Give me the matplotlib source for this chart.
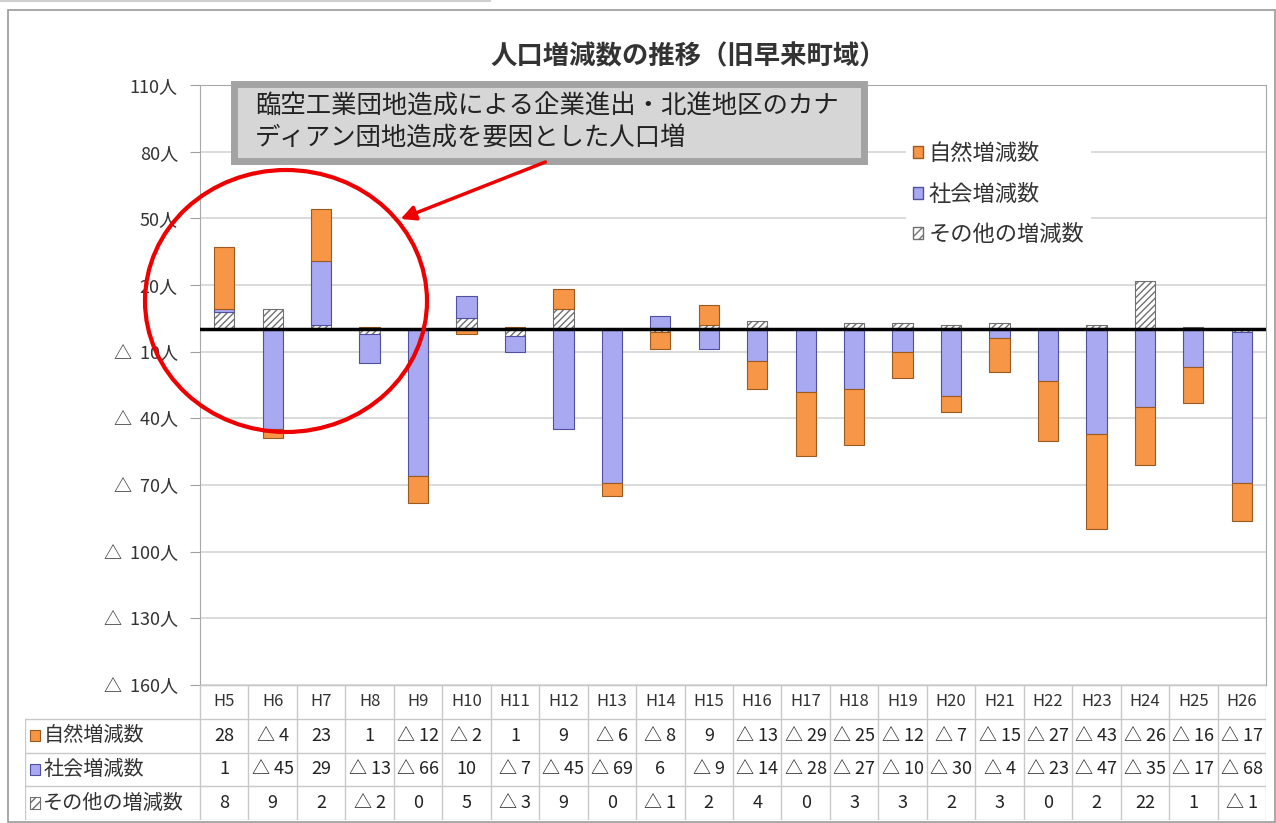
import numpy as np
from matplotlib import pyplot as plt
import matplotlib.patches as mpatches
from matplotlib.lines import Line2D

plt.rcParams['font.family'] = ['Noto Sans CJK JP', 'DejaVu Sans']

years = ["H5", "H6", "H7", "H8", "H9", "H10", "H11", "H12", "H13", "H14", "H15",
         "H16", "H17", "H18", "H19", "H20", "H21", "H22", "H23", "H24", "H25", "H26"]
natural = [28, -4, 23, 1, -12, -2, 1, 9, -6, -8, 9, -13, -29, -25, -12, -7, -15, -27, -43, -26, -16, -17]
social = [1, -45, 29, -13, -66, 10, -7, -45, -69, 6, -9, -14, -28, -27, -10, -30, -4, -23, -47, -35, -17, -68]
other = [8, 9, 2, -2, 0, 5, -3, 9, 0, -1, 2, 4, 0, 3, 3, 2, 3, 0, 2, 22, 1, -1]
series_names = ["自然増減数", "社会増減数", "その他の増減数"]
yticks = [110, 80, 50, 20, -10, -40, -70, -100, -130, -160]

title = "人口増減数の推移（旧早来町域）"
note = "臨空工業団地造成による企業進出・北進地区のカナ\nディアン団地造成を要因とした人口増"

W, H = 1276, 823
fig = plt.figure(figsize=(W / 100, H / 100), dpi=100)

def fx(px):
    return px / W

def fy(py):
    return 1 - py / H

# outer frame
fig.add_artist(mpatches.Rectangle((fx(8), fy(822)), fx(1275) - fx(8), fy(10) - fy(822),
                                  transform=fig.transFigure, fill=False, edgecolor='#9a9a9a', lw=1.2))
fig.add_artist(Line2D([0, fx(490)], [fy(1), fy(1)], transform=fig.transFigure, color='#d0d0d0', lw=1.5))

ax = fig.add_axes([fx(200), fy(685), fx(1266) - fx(200), fy(85) - fy(685)])
x = np.arange(len(years))
width = 0.42

c_nat = '#F79646'
c_soc = '#A9A9F2'
styles = [
    (other, dict(color='white', edgecolor='#707070', hatch='/////', linewidth=0.8)),
    (social, dict(color=c_soc, edgecolor='#5050a0', linewidth=0.8)),
    (natural, dict(color=c_nat, edgecolor='#9a5a20', linewidth=0.8)),
]
pos = np.zeros(len(years))
neg = np.zeros(len(years))
for vals, kw in styles:
    v = np.array(vals, dtype=float)
    bottom = np.where(v >= 0, pos, neg)
    ax.bar(x, v, width, bottom=bottom, zorder=3, **kw)
    pos = pos + np.where(v >= 0, v, 0)
    neg = neg + np.where(v < 0, v, 0)

ax.axhline(0, color='black', lw=2.5, zorder=4)
ax.set_xlim(-0.5, len(years) - 0.5)
ax.set_ylim(-160, 110)
ax.set_yticks(yticks)
ax.set_yticklabels([f"{t}人" if t >= 0 else f"△  {-t}人" for t in yticks],
                   fontsize=13, color='#333333')
ax.tick_params(axis='y', length=7, color='#a0a0a0', pad=9)
ax.set_xticks([])
ax.grid(axis='y', color='#d4d4d4', lw=1.2, zorder=0)
for s in ax.spines.values():
    s.set_color('#a8a8a8')

leg_handles = [
    mpatches.Patch(facecolor=c_nat, edgecolor='#9a5a20', label=series_names[0]),
    mpatches.Patch(facecolor=c_soc, edgecolor='#5050a0', label=series_names[1]),
    mpatches.Patch(facecolor='white', edgecolor='#707070', hatch='////', label=series_names[2]),
]
leg = ax.legend(handles=leg_handles, loc='upper left', bbox_to_anchor=(0.652, 0.934),
                fontsize=16, handlelength=0.45, handleheight=0.45, handletextpad=0.25,
                labelspacing=0.78, frameon=True, framealpha=1, edgecolor='white',
                borderpad=0.3)
leg.get_frame().set_linewidth(0)
for t in leg.get_texts():
    t.set_color('#333333')

fig.text(fx(688), fy(57), title, ha='center', va='center', fontsize=19,
         fontweight='bold', color='#333333')

# table under the chart
col_w = (1266 - 200) / len(years)
left_px = 25
tab = fig.add_axes([fx(left_px), fy(820), fx(1266) - fx(left_px), fy(685) - fy(820)])
x0 = -0.5 - (200 - left_px) / col_w
tab.set_xlim(x0, len(years) - 0.5)
tab.set_ylim(4, 0)
tab.axis('off')
lc = '#c8c8c8'
tab.plot([-0.5, len(years) - 0.5], [0, 0], color=lc, lw=1)
for r in [1, 2, 3, 4]:
    tab.plot([x0, len(years) - 0.5], [r, r], color=lc, lw=1)
for i in range(len(years) + 1):
    tab.plot([i - 0.5, i - 0.5], [0, 4], color=lc, lw=1)
tab.plot([x0, x0], [1, 4], color=lc, lw=1)

def fmt(v):
    return str(v) if v >= 0 else f"△ {-v}"

for i, yr in enumerate(years):
    tab.text(i, 0.5, yr, ha='center', va='center', fontsize=12, color='#333333')
    for r, vals in enumerate([natural, social, other]):
        tab.text(i, r + 1.5, fmt(vals[i]), ha='center', va='center', fontsize=13,
                 color='#222222')

for r, (name, h) in enumerate(zip(series_names, leg_handles)):
    sq = mpatches.Rectangle((x0 + 0.1, r + 1.33), 0.2, 0.34, facecolor=h.get_facecolor(),
                            edgecolor=h.get_edgecolor(), hatch=h.get_hatch(), lw=0.8)
    tab.add_patch(sq)
    tab.text(x0 + 0.38, r + 1.5, name, ha='left', va='center', fontsize=14.5, color='#333333')

# annotation box
fig.add_artist(mpatches.Rectangle((fx(234), fy(161)), fx(864) - fx(234), fy(84) - fy(161),
                                  transform=fig.transFigure, facecolor='#d6d6d6',
                                  edgecolor='#a3a3a3', lw=5, zorder=5))
fig.text(fx(255), fy(122), note, ha='left', va='center', fontsize=18.3, color='#222222',
         linespacing=1.22, zorder=6)

# red ellipse + arrow
fig.add_artist(mpatches.Ellipse((fx(286), fy(301)), fx(282), 262 / H, transform=fig.transFigure,
                                fill=False, edgecolor='#ee0000', lw=3, zorder=6))
fig.add_artist(mpatches.FancyArrowPatch((fx(548), fy(161)), (fx(398), fy(220)),
                                        transform=fig.transFigure, arrowstyle='-|>',
                                        mutation_scale=22, color='#ee0000', lw=2.5, zorder=6))

fig.savefig("out.png", dpi=100)
